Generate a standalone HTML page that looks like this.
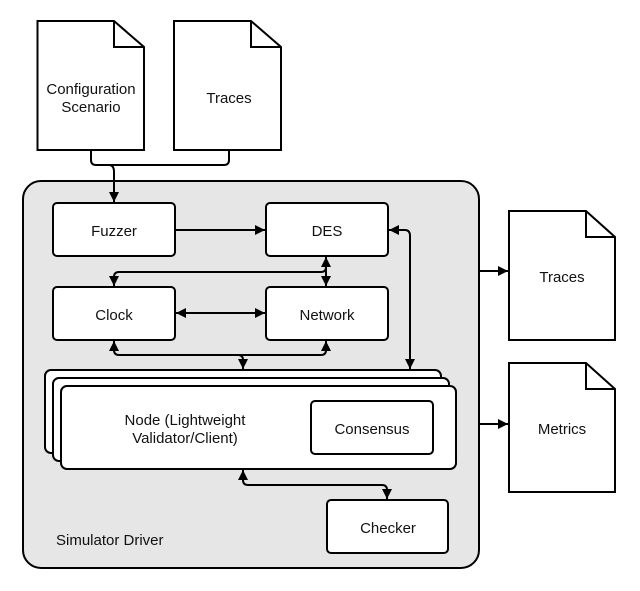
<!DOCTYPE html>
<html><head><meta charset="utf-8"><style>html,body{margin:0;padding:0;background:#fff}svg{display:block}text{font-family:"Liberation Sans",Arial,sans-serif;fill:#111}</style></head>
<body>
<svg width="640" height="591" viewBox="0 0 640 591" xmlns="http://www.w3.org/2000/svg">
<defs><marker id="a" viewBox="0 0 10 10" refX="10" refY="5" markerWidth="5" markerHeight="5" orient="auto-start-reverse"><path d="M0,0L10,5L0,10z" fill="#000"/></marker></defs>
<g stroke="#000" stroke-width="2" fill="#fff">
<path d="M37.5,21H114L144,47V150H37.5Z"/><path d="M114,21V47H144" fill="none"/>
<path d="M174,21H251L281,47V150H174Z"/><path d="M251,21V47H281" fill="none"/>
<path d="M509,211H586L615,237V340H509Z"/><path d="M586,211V237H615" fill="none"/>
<path d="M509,363H586L615,389V492H509Z"/><path d="M586,363V389H615" fill="none"/>
<rect x="23" y="181" width="456" height="387" rx="18" fill="#e6e6e6"/>
<rect x="53" y="203" width="122" height="53" rx="4"/>
<rect x="266" y="203" width="122" height="53" rx="4"/>
<rect x="53" y="287" width="122" height="53" rx="4"/>
<rect x="266" y="287" width="122" height="53" rx="4"/>
<rect x="45" y="370" width="396" height="83" rx="6"/>
<rect x="53" y="378" width="396" height="83" rx="6"/>
<rect x="61" y="386" width="395" height="83" rx="6"/>
<rect x="311" y="401" width="122" height="53" rx="4"/>
<rect x="327" y="500" width="121" height="53" rx="4"/>
</g>
<g stroke="#000" stroke-width="2" fill="none">
<path d="M91,150V160Q91,165 96,165H224Q229,165 229,160V150"/>
<path d="M109,165Q114,165 114,172V202" marker-end="url(#a)"/>
<path d="M175,230H265" marker-end="url(#a)"/>
<path d="M389,230H405Q410,230 410,236V369" marker-start="url(#a)" marker-end="url(#a)"/>
<path d="M326,257V286" marker-start="url(#a)" marker-end="url(#a)"/>
<path d="M326,267Q326,272 321,272H119Q114,272 114,277V286" marker-end="url(#a)"/>
<path d="M176,313H265" marker-start="url(#a)" marker-end="url(#a)"/>
<path d="M114,341V350Q114,355 119,355H321Q326,355 326,350V341" marker-start="url(#a)"/>
<path d="M326,345V341" marker-end="url(#a)"/>
<path d="M238,355Q243,355 243,360V369" marker-end="url(#a)"/>
<path d="M243,470V480Q243,485 248,485H382Q387,485 387,490V499" marker-start="url(#a)" marker-end="url(#a)"/>
<path d="M479,271H508" marker-end="url(#a)"/>
<path d="M479,424H508" marker-end="url(#a)"/>
</g>
<g font-size="15" text-anchor="middle">
<text x="91" y="94">Configuration</text><text x="91" y="112">Scenario</text>
<text x="229" y="103">Traces</text>
<text x="562" y="282">Traces</text>
<text x="562" y="434">Metrics</text>
<text x="114" y="236">Fuzzer</text>
<text x="327" y="236">DES</text>
<text x="114" y="320">Clock</text>
<text x="327" y="320">Network</text>
<text x="185" y="425">Node (Lightweight</text>
<text x="185" y="443">Validator/Client)</text>
<text x="372" y="434">Consensus</text>
<text x="388" y="533">Checker</text>
<text x="56" y="545" text-anchor="start">Simulator Driver</text>
</g>
</svg>
</body></html>
